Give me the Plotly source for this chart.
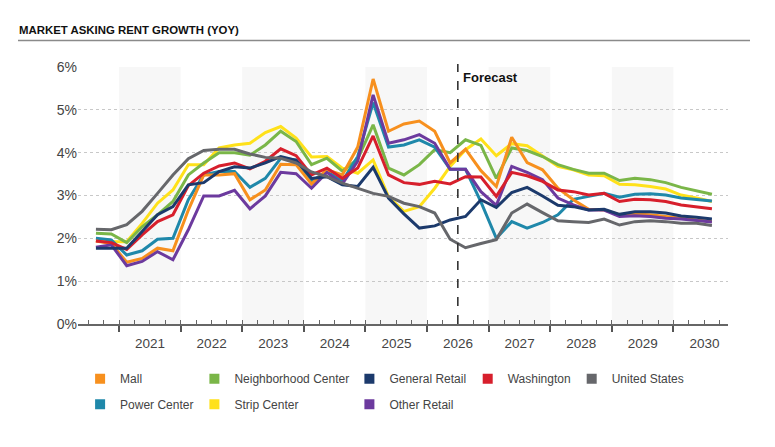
import plotly.graph_objects as go

# ---- categories (quarterly, 2020 Q3 .. 2030 Q3) ----
quarters = [f"{y} Q{q}" for y in range(2020, 2031) for q in range(1, 5)]
quarters = quarters[quarters.index("2020 Q3"):quarters.index("2030 Q3") + 1]

year_ticks = [2021, 2022, 2023, 2024, 2025, 2026, 2027, 2028, 2029, 2030]
year_labels = [str(y) for y in year_ticks]
shaded_years = [2021, 2023, 2025, 2027, 2029]
forecast_start = "2026 Q3"

# ---- series values (% YoY) ----
mall = [1.94, 1.88, 1.44, 1.53, 1.77, 1.71, 2.66, 3.48, 3.48, 3.51, 2.90, 3.13, 3.73, 3.72,
        3.27, 3.60, 3.48, 4.13, 5.72, 4.50, 4.67, 4.74, 4.50, 3.76, 4.08, 3.58, 3.21, 4.36,
        3.77, 3.60, 3.17, 2.90, 2.68, 2.66, 2.55, 2.57, 2.55, 2.51, 2.47, 2.43, 2.39]
neighborhood = [2.12, 2.10, 1.90, 2.27, 2.55, 2.86, 3.48, 3.76, 4.00, 4.00, 3.94, 4.18, 4.50, 4.26,
                3.72, 3.87, 3.57, 3.85, 4.65, 3.64, 3.48, 3.72, 4.07, 4.00, 4.30, 4.17, 3.40, 4.11,
                4.05, 3.91, 3.72, 3.61, 3.52, 3.52, 3.35, 3.40, 3.37, 3.30, 3.19, 3.11, 3.03]
general_retail = [1.77, 1.77, 1.77, 2.16, 2.55, 2.74, 3.25, 3.30, 3.56, 3.67, 3.64, 3.76, 3.91, 3.82,
                  3.40, 3.44, 3.25, 3.21, 3.66, 2.94, 2.57, 2.24, 2.29, 2.43, 2.51, 2.90, 2.72, 3.07,
                  3.19, 2.99, 2.77, 2.74, 2.66, 2.68, 2.56, 2.62, 2.62, 2.59, 2.52, 2.49, 2.45]
washington = [1.94, 1.90, 1.74, 2.08, 2.39, 2.55, 3.23, 3.52, 3.69, 3.76, 3.62, 3.80, 4.09, 3.93,
              3.48, 3.64, 3.40, 3.64, 4.39, 3.48, 3.30, 3.26, 3.33, 3.27, 3.44, 3.43, 2.98, 3.54,
              3.46, 3.33, 3.13, 3.09, 3.01, 3.05, 2.86, 2.91, 2.90, 2.86, 2.78, 2.74, 2.69]
united_states = [2.21, 2.20, 2.32, 2.63, 3.05, 3.48, 3.86, 4.05, 4.08, 4.08, 3.97, 3.89, 3.87, 3.76,
                 3.55, 3.44, 3.29, 3.17, 3.05, 2.98, 2.82, 2.74, 2.59, 1.98, 1.78, 1.88, 1.97, 2.59,
                 2.80, 2.60, 2.41, 2.39, 2.37, 2.45, 2.31, 2.39, 2.41, 2.39, 2.35, 2.35, 2.30]
power_center = [2.00, 1.96, 1.61, 1.71, 1.98, 2.00, 2.90, 3.48, 3.56, 3.56, 3.19, 3.40, 3.87, 3.83,
                3.33, 3.56, 3.33, 3.91, 5.17, 4.13, 4.18, 4.30, 4.13, 3.61, 3.61, 2.85, 2.00, 2.39,
                2.24, 2.37, 2.55, 2.91, 2.98, 3.05, 2.96, 3.03, 3.04, 3.01, 2.94, 2.90, 2.87]
strip_center = [1.95, 1.92, 1.92, 2.35, 2.82, 3.13, 3.72, 3.72, 4.11, 4.18, 4.22, 4.47, 4.61, 4.34,
                3.90, 3.91, 3.64, 3.52, 3.83, 2.97, 2.63, 2.74, 3.17, 3.68, 4.07, 4.32, 3.93, 4.21,
                4.16, 3.91, 3.68, 3.60, 3.48, 3.46, 3.26, 3.25, 3.21, 3.15, 3.01, 2.94, 2.86]
other_retail = [1.79, 1.85, 1.36, 1.46, 1.69, 1.50, 2.20, 2.99, 2.99, 3.12, 2.69, 2.99, 3.54, 3.51,
                3.17, 3.54, 3.27, 3.80, 5.35, 4.22, 4.30, 4.42, 4.22, 3.61, 3.61, 3.09, 2.77, 3.68,
                3.54, 3.37, 2.94, 2.78, 2.66, 2.66, 2.51, 2.53, 2.51, 2.47, 2.45, 2.41, 2.38]

values = {
    "Mall": mall, "Neighborhood Center": neighborhood, "General Retail": general_retail,
    "Washington": washington, "United States": united_states, "Power Center": power_center,
    "Strip Center": strip_center, "Other Retail": other_retail,
}
colors = {
    "Mall": "#F7901E", "Neighborhood Center": "#7AB648", "General Retail": "#1C3A6C",
    "Washington": "#D71F2C", "United States": "#66676B", "Power Center": "#1F88AA",
    "Strip Center": "#FFE11A", "Other Retail": "#6C3A9E",
}
# legend column for each series
legend_of = {
    "Mall": "legend", "Power Center": "legend",
    "Neighborhood Center": "legend2", "Strip Center": "legend2",
    "General Retail": "legend3", "Other Retail": "legend3",
    "Washington": "legend4", "United States": "legend5",
}
draw_order = ["Strip Center", "Neighborhood Center", "Power Center", "Mall",
              "Other Retail", "Washington", "General Retail", "United States"]


def qpos(label):
    y, q = label.split(" Q")
    return int(y) + (int(q) - 1) / 4 + 0.125


def qstart(label):
    y, q = label.split(" Q")
    return int(y) + (int(q) - 1) / 4


xs = [qpos(q) for q in quarters]

fig = go.Figure()
for name in draw_order:
    fig.add_trace(go.Scatter(
        x=xs, y=values[name], mode="lines", name=name,
        line=dict(color=colors[name], width=3),
        customdata=quarters, legendgroup=name, showlegend=False,
        hovertemplate="%{customdata}: %{y:.2f}%<extra>" + name + "</extra>",
    ))

# legend entries (square swatches), arranged in columns
legend_order = ["Mall", "Power Center", "Neighborhood Center", "Strip Center",
                "General Retail", "Other Retail", "Washington", "United States"]
for name in legend_order:
    fig.add_trace(go.Scatter(
        x=[None], y=[None], mode="markers", name=name, legendgroup=name,
        marker=dict(symbol="square", size=10, color=colors[name]),
        legend=legend_of[name], showlegend=True,
    ))

FONT = "Liberation Sans, Arial, Helvetica, sans-serif"
OFF = 8  # page body margin offset
# plot area in page pixels: x 78..728, y 67..324
L, R = 78 - OFF, 775 - (728 - OFF)
T, B = 67 - OFF, 447 - (324 - OFF)
PW, PH = 775 - L - R, 447 - T - B


def px_to_paper_x(px):
    return (px - OFF - L) / PW


def py_to_paper_y(py):
    return (447 - B - (py - OFF)) / PH


shapes = []
for y in shaded_years:
    shapes.append(dict(type="rect", xref="x", yref="paper", x0=y, x1=y + 1, y0=0, y1=1,
                       fillcolor="#F7F7F7", line=dict(width=0), layer="below"))
fx = qstart(forecast_start)
shapes.append(dict(type="line", xref="x", yref="paper", x0=fx, x1=fx, y0=0,
                   y1=py_to_paper_y(64), line=dict(color="#333333", width=1.6, dash="dash")))
shapes.append(dict(type="line", xref="paper", yref="paper",
                   x0=px_to_paper_x(18), x1=px_to_paper_x(750),
                   y0=py_to_paper_y(40.5), y1=py_to_paper_y(40.5),
                   line=dict(color="#8A8A8A", width=1.5)))

legend_common = dict(orientation="v", yanchor="top", xanchor="left",
                     font=dict(family=FONT, size=12, color="#444444"),
                     bgcolor="rgba(0,0,0,0)", tracegroupgap=6.5, itemclick="toggle")
legend_cols = {"legend": 101.7, "legend2": 216, "legend3": 371, "legend4": 489.3, "legend5": 593.3}
legend_layout = {}
for key, cx in legend_cols.items():
    legend_layout[key] = dict(legend_common, x=px_to_paper_x(cx - 21.6), y=py_to_paper_y(364.3))

fig.update_layout(
    width=775, height=447,
    margin=dict(l=L, r=R, t=T, b=B, autoexpand=False),
    paper_bgcolor="white", plot_bgcolor="white",
    font=dict(family=FONT, color="#444444"),
    title=dict(text="<b>MARKET ASKING RENT GROWTH (YOY)</b>", xref="container", yref="container",
               x=(19 - OFF) / 775, xanchor="left", y=1 - (29.8 - OFF) / 447, yanchor="middle",
               font=dict(family=FONT, size=11.4, color="#111111")),
    xaxis=dict(
        range=[2020.334, 2030.886], tickmode="array", tickvals=year_ticks, ticktext=year_labels,
        ticklabelshift=31, ticks="outside", ticklen=6, tickwidth=1.5, tickcolor="#555555",
        showline=True, linecolor="#666666", linewidth=1.6, showgrid=False, zeroline=False,
        tickfont=dict(family=FONT, size=13.5, color="#444444"),
        minor=dict(tickmode="linear", tick0=2020, dtick=0.25, ticks="inside", ticklen=4,
                   tickwidth=1, tickcolor="#666666", showgrid=False),
        fixedrange=True,
    ),
    xaxis2=dict(
        overlaying="x", matches="x", anchor="y", side="bottom",
        tickmode="array", tickvals=year_ticks, ticks="inside", ticklen=5, tickwidth=1.5,
        tickcolor="#555555", showticklabels=False, showline=False, showgrid=False,
        zeroline=False, fixedrange=True,
    ),
    yaxis=dict(
        range=[0, 6], dtick=1, ticksuffix="%", ticks="", showline=False, zeroline=False,
        showgrid=True, gridcolor="#C8C8C8", griddash="dot", gridwidth=1,
        tickfont=dict(family=FONT, size=14, color="#444444"), fixedrange=True,
    ),
    shapes=shapes,
    annotations=[dict(text="<b>Forecast</b>", xref="x", yref="paper", x=fx, y=py_to_paper_y(68),
                      xanchor="left", yanchor="top", xshift=3, showarrow=False,
                      font=dict(family=FONT, size=13, color="#111111"))],
    hovermode="closest",
    **legend_layout,
)

fig.write_html("out.html")
